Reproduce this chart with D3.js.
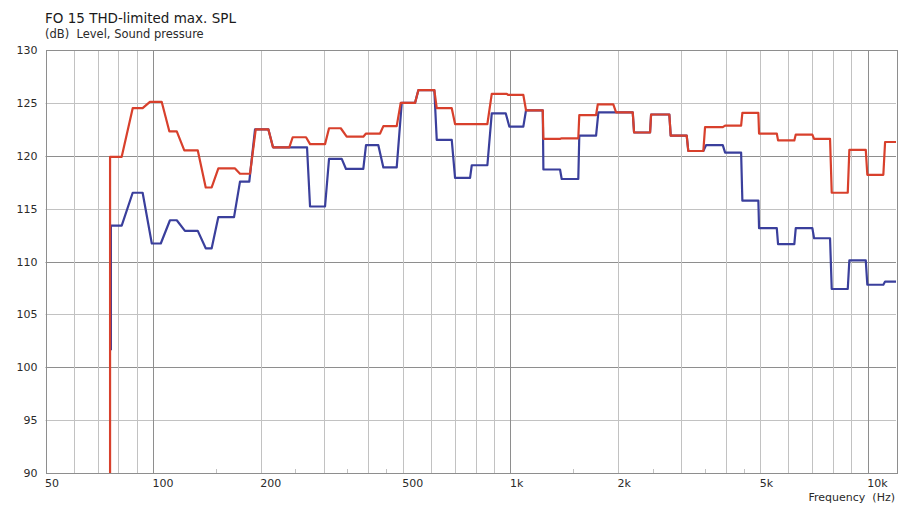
<!DOCTYPE html>
<html>
<head>
<meta charset="utf-8">
<script src="https://cdn.jsdelivr.net/npm/d3@7"></script>
<style>
    body { margin: 0; background: #fff; }
    svg { display: block; font-family: "DejaVu Sans", Verdana, sans-serif; }
    .grid-minor { stroke: #c2c2c2; stroke-width: 1; }
    .grid-major { stroke: #8e8e8e; stroke-width: 1; }
    .frame { stroke: #8e8e8e; stroke-width: 1; fill: none; }
</style>
</head>
<body>
<div id="chart"></div>
<script>
// Chart texts (non-breaking spaces keep the double gaps)
const TITLE = "FO 15 THD-limited max. SPL";
const SUBTITLE = "(dB)\u00a0\u00a0Level, Sound pressure";
const X_TITLE = "Frequency\u00a0\u00a0(Hz)";

// Axis ticks
const yTicks = [90, 95, 100, 105, 110, 115, 120, 125, 130];
const xLabelValues = [50, 100, 200, 500, 1000, 2000, 5000, 10000];
const xLabelText = ["50", "100", "200", "500", "1k", "2k", "5k", "10k"];
const xGridValues = [60, 70, 80, 90, 100, 200, 300, 400, 500, 600, 700, 800, 900,
    1000, 2000, 3000, 4000, 5000, 6000, 7000, 8000, 9000, 10000];
const xMinorTicks = [150, 250, 350, 450, 1500, 2500, 3500, 4500];

// Red curve (upper), breakpoints
const redFreq = [75.8, 75.8, 81.7, 87.7, 93.5, 98.0, 105.7, 111.1, 116.5, 122.3,
    133.4, 140.4, 145.9, 152.3, 169.6, 175.1, 186.8, 193.8, 210.2, 216.6,
    240.6, 245.9, 268.0, 275.0, 302.9, 310.8, 335.2, 348.3, 387.6, 394.4,
    431.8, 441.1, 480.7, 493.2, 541.0, 552.6, 612.6, 622.2, 685.3, 700.1,
    862.2, 886.9, 977.0, 985, 1087, 1106, 1232, 1237, 1377, 1392,
    1549, 1559, 1737, 1756, 1941, 1976, 2200, 2219, 2460, 2476,
    2785, 2810, 3115, 3147, 3467, 3506, 3930, 3990, 4423, 4459,
    4943, 4965, 5566, 5612, 6232, 6290, 7000, 7078, 7845, 7931,
    8794, 8884, 9876, 9975, 11060, 11185, 12000];
const redDb = [89, 119.9, 119.9, 124.5, 124.5, 125.1, 125.1, 122.3, 122.3, 120.5,
    120.5, 117.0, 117.0, 118.8, 118.8, 118.3, 118.3, 122.5, 122.5, 120.8,
    120.8, 121.75, 121.75, 121.1, 121.1, 122.6, 122.6, 121.8, 121.8, 122.1,
    122.1, 122.8, 122.8, 125.0, 125.0, 126.2, 126.2, 124.5, 124.5, 123.0,
    123.0, 125.85, 125.85, 125.75, 125.75, 124.3, 124.3, 121.6, 121.6, 121.65,
    121.65, 123.85, 123.85, 124.85, 124.85, 124.1, 124.1, 122.2, 122.2, 123.9,
    123.9, 121.9, 121.9, 120.45, 120.45, 122.7, 122.7, 122.85, 122.85, 124.05,
    124.05, 122.1, 122.1, 121.45, 121.45, 122.0, 122.0, 121.6, 121.6, 116.5,
    116.5, 120.55, 120.55, 118.2, 118.2, 121.3, 121.3];

// Blue curve (lower), breakpoints
const blueFreq = [76.2, 76.2, 81.7, 87.7, 93.5, 99.2, 105.1, 111.5, 116.5, 122.8,
    133.4, 140.4, 145.9, 152.3, 168.5, 175.1, 185.9, 192.9, 210.2, 216.6,
    269.7, 275.0, 302.9, 310.8, 337.3, 346.7, 387.6, 394.4, 427.0, 441.1,
    480.7, 496.5, 541.0, 552.6, 612.6, 622.2, 685.3, 700.1, 771.2, 779.7,
    862.2, 886.9, 970.7, 993.5, 1087, 1106, 1232, 1237, 1377, 1392,
    1549, 1559, 1737, 1763, 2200, 2219, 2460, 2476, 2785, 2810,
    3115, 3147, 3467, 3528, 3930, 3990, 4423, 4459, 4943, 4965,
    5566, 5612, 6232, 6290, 7000, 7078, 7845, 7931, 8794, 8884,
    9876, 9975, 11060, 11185, 12000];
const blueDb = [101.6, 113.4, 113.4, 116.5, 116.5, 111.7, 111.7, 113.9, 113.9, 112.9,
    112.9, 111.25, 111.25, 114.2, 114.2, 117.55, 117.55, 122.5, 122.5, 120.8,
    120.8, 115.2, 115.2, 119.7, 119.7, 118.75, 118.75, 121.0, 121.0, 118.9,
    118.9, 125.0, 125.0, 126.2, 126.2, 121.5, 121.5, 117.9, 117.9, 119.1,
    119.1, 124.0, 124.0, 122.75, 122.75, 124.3, 124.3, 118.7, 118.7, 117.8,
    117.8, 121.9, 121.9, 124.1, 124.1, 122.2, 122.2, 123.9, 123.9, 121.9,
    121.9, 120.45, 120.45, 121.0, 121.0, 120.3, 120.3, 115.75, 115.75, 113.15,
    113.15, 111.65, 111.65, 113.15, 113.15, 112.2, 112.2, 107.4, 107.4, 110.1,
    110.1, 107.8, 107.8, 108.1, 108.1];

// Chart dimensions
const CHART = {
    width: 899,
    height: 505,
    left: 45.5,
    right: 896,
    top: 50,
    bottom: 473
};

const svg = d3.select("#chart")
    .append("svg")
    .attr("width", CHART.width)
    .attr("height", CHART.height);

// Scales
const xScale = d3.scaleLog()
    .domain([50, 12000])
    .range([CHART.left, CHART.right]);

const yScale = d3.scaleLinear()
    .domain([90, 130])
    .range([CHART.bottom, CHART.top]);

// Titles
svg.append("text")
    .attr("x", 45)
    .attr("y", 23)
    .style("font-size", "13.5px")
    .attr("fill", "#1a1a1a")
    .text(TITLE);

svg.append("text")
    .attr("x", 45)
    .attr("y", 38)
    .style("font-size", "11.5px")
    .attr("fill", "#2a2a2a")
    .text(SUBTITLE);

// Grid lines
const grid = svg.append("g");

grid.selectAll(".hgrid")
    .data(yTicks.slice(1, -1))
    .enter()
    .append("line")
    .attr("class", d => d % 10 === 0 ? "grid-major" : "grid-minor")
    .attr("x1", CHART.left)
    .attr("x2", CHART.right)
    .attr("y1", d => Math.round(yScale(d)) + 0.5)
    .attr("y2", d => Math.round(yScale(d)) + 0.5);

grid.selectAll(".vgrid")
    .data(xGridValues)
    .enter()
    .append("line")
    .attr("class", d => [100, 1000, 10000].includes(d) ? "grid-major" : "grid-minor")
    .attr("x1", d => Math.round(xScale(d)) + 0.5)
    .attr("x2", d => Math.round(xScale(d)) + 0.5)
    .attr("y1", CHART.top)
    .attr("y2", CHART.bottom);

// Small ticks on the frequency axis
grid.selectAll(".minor-tick")
    .data(xMinorTicks)
    .enter()
    .append("line")
    .attr("class", "grid-minor")
    .attr("x1", d => Math.round(xScale(d)) + 0.5)
    .attr("x2", d => Math.round(xScale(d)) + 0.5)
    .attr("y1", CHART.bottom - 4)
    .attr("y2", CHART.bottom);

// Plot frame
svg.append("rect")
    .attr("class", "frame")
    .attr("x", Math.round(CHART.left) + 0.5)
    .attr("y", CHART.top + 0.5)
    .attr("width", Math.round(CHART.right - CHART.left))
    .attr("height", CHART.bottom - CHART.top);

// Y axis labels
const yAxis = d3.axisLeft(yScale)
    .tickValues(yTicks)
    .tickSize(0)
    .tickPadding(8)
    .tickFormat(d3.format("d"));

svg.append("g")
    .attr("transform", `translate(${CHART.left},0)`)
    .call(yAxis)
    .call(g => g.select(".domain").remove())
    .selectAll("text")
    .style("font-family", "DejaVu Sans, Verdana, sans-serif")
    .style("font-size", "11px")
    .attr("fill", "#2a2a2a");

// X axis labels (left aligned at the tick)
const xAxis = d3.axisBottom(xScale)
    .tickValues(xLabelValues)
    .tickSize(0)
    .tickPadding(6)
    .tickFormat((d, i) => xLabelText[i]);

svg.append("g")
    .attr("transform", `translate(0,${CHART.bottom})`)
    .call(xAxis)
    .call(g => g.select(".domain").remove())
    .selectAll("text")
    .attr("text-anchor", "start")
    .attr("x", -1)
    .style("font-family", "DejaVu Sans, Verdana, sans-serif")
    .style("font-size", "11px")
    .attr("fill", "#2a2a2a");

svg.append("text")
    .attr("x", 895)
    .attr("y", 501)
    .attr("text-anchor", "end")
    .style("font-size", "11px")
    .attr("fill", "#2a2a2a")
    .text(X_TITLE);

// Curves
svg.append("clipPath")
    .attr("id", "plot-clip")
    .append("rect")
    .attr("x", CHART.left)
    .attr("y", CHART.top)
    .attr("width", CHART.right - CHART.left)
    .attr("height", CHART.bottom - CHART.top);

const line = d3.line()
    .x(d => xScale(d[0]))
    .y(d => yScale(d[1]));

const curves = svg.append("g").attr("clip-path", "url(#plot-clip)");

curves.append("path")
    .datum(d3.zip(blueFreq, blueDb))
    .attr("d", line)
    .attr("fill", "none")
    .attr("stroke", "#3a3f9c")
    .attr("stroke-width", 2.2)
    .attr("stroke-linejoin", "round");

curves.append("path")
    .datum(d3.zip(redFreq, redDb))
    .attr("d", line)
    .attr("fill", "none")
    .attr("stroke", "#d8402c")
    .attr("stroke-width", 2.2)
    .attr("stroke-linejoin", "round");
</script>
</body>
</html>
